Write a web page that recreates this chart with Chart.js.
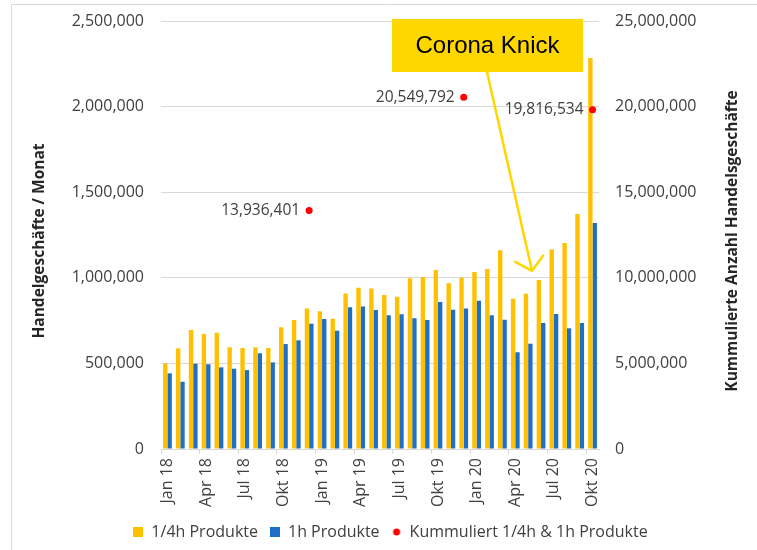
<!DOCTYPE html>
<html>
<head>
<meta charset="utf-8">
<script src="https://cdn.jsdelivr.net/npm/chart.js@4.4.1/dist/chart.umd.min.js"></script>
<style>
  html, body { margin: 0; padding: 0; background: #fff; }
  #wrap { width: 757px; height: 550px; }
</style>
</head>
<body>
<div id="wrap"><canvas id="tradeChart" width="757" height="550"></canvas></div>
<script>
// Data
const months = [
  "Jan 18", "Feb 18", "Mär 18", "Apr 18", "Mai 18", "Jun 18", "Jul 18", "Aug 18", "Sep 18", "Okt 18", "Nov 18", "Dez 18",
  "Jan 19", "Feb 19", "Mär 19", "Apr 19", "Mai 19", "Jun 19", "Jul 19", "Aug 19", "Sep 19", "Okt 19", "Nov 19", "Dez 19",
  "Jan 20", "Feb 20", "Mär 20", "Apr 20", "Mai 20", "Jun 20", "Jul 20", "Aug 20", "Sep 20", "Okt 20"
];
const quarterHourTrades = [
  500000, 588000, 695000, 672000, 679000, 594000, 590000, 594000, 590000, 711000, 753000, 820000,
  804000, 761000, 909000, 942000, 938000, 899000, 890000, 997000, 1005000, 1046000, 968000, 1001000,
  1034000, 1051000, 1161000, 878000, 907000, 987000, 1166000, 1203000, 1373000, 2284000
];
const hourTrades = [
  442000, 393000, 498000, 495000, 477000, 469000, 461000, 559000, 506000, 613000, 635000, 732000,
  759000, 691000, 828000, 833000, 812000, 781000, 787000, 763000, 753000, 859000, 814000, 820000,
  866000, 781000, 755000, 565000, 615000, 736000, 788000, 705000, 736000, 1320000
];
const cumMonths = ["Dez 18", "Dez 19", "Okt 20"];
const cumTrades = [13936401, 20549792, 19816534];

const seriesNames = ["1/4h Produkte", "1h Produkte", "Kummuliert 1/4h & 1h Produkte"];
const leftTitle = "Handelgeschäfte / Monat";
const rightTitle = "Kummulierte Anzahl Handelsgeschäfte";
const calloutText = "Corona Knick";

const GOLD = "#FFC000";
const BLUE = "#1F6FC6";
const RED = "#FF0000";
const CALLOUT = "#FFD700";
const GRID = "#D9D9D9";
const TEXT = "#404040";
const NONE = "rgba(0,0,0,0)";

Chart.defaults.font.family = '"Open Sans", "Noto Sans", sans-serif';
Chart.defaults.font.size = 16;
Chart.defaults.color = TEXT;

const fmt = v => Number(v).toLocaleString("en-US");

// small legend markers
function marker(color, round) {
  const c = document.createElement("canvas");
  c.width = 10; c.height = 10;
  const g = c.getContext("2d");
  g.fillStyle = color;
  if (round) { g.beginPath(); g.arc(5, 5, 3.5, 0, Math.PI * 2); g.fill(); }
  else g.fillRect(0, 0, 10, 10);
  return c;
}
const markers = [marker(GOLD), marker(BLUE), marker(RED, true)];

// callout placement in scale units (x: category index, y: left axis)
const callout = { x0: 17.43, x1: 32.26, yTop: 2512000, yBottom: 2202000 };
const arrow = { x0: 24.81, y0: 2202000, x1: 28.3, y1: 1040000 };

const extras = {
  id: "extras",
  beforeDraw(chart) {
    const c = chart.ctx;
    c.save();
    c.strokeStyle = GRID;
    c.lineWidth = 1;
    c.beginPath();
    c.moveTo(11.5, chart.height);
    c.lineTo(11.5, 4.5);
    c.lineTo(chart.width, 4.5);
    c.stroke();
    c.restore();
  },
  afterDraw(chart) {
    const c = chart.ctx, area = chart.chartArea;
    const xs = chart.scales.x, ys = chart.scales.y;
    const midY = (area.top + area.bottom) / 2 + 6;

    // axis titles
    [[leftTitle, 40], [rightTitle, 733]].forEach(([t, x]) => {
      c.save();
      c.fillStyle = "#262626";
      c.font = 'bold 15.5px "Open Sans"';
      c.textAlign = "center";
      c.textBaseline = "middle";
      c.translate(x, midY);
      c.rotate(-Math.PI / 2);
      c.fillText(t, 0, 0);
      c.restore();
    });

    // labels for cumulative points
    c.save();
    c.fillStyle = TEXT;
    c.font = '15.5px "Open Sans"';
    c.textAlign = "right";
    c.textBaseline = "middle";
    chart.getDatasetMeta(2).data.forEach((pt, i) => {
      c.fillText(fmt(cumTrades[i]), pt.x - 9, pt.y);
    });
    c.restore();

    // Corona Knick callout
    const bx0 = xs.getPixelForValue(callout.x0), bx1 = xs.getPixelForValue(callout.x1);
    const by0 = ys.getPixelForValue(callout.yTop), by1 = ys.getPixelForValue(callout.yBottom);
    const ax0 = xs.getPixelForValue(arrow.x0), ay0 = ys.getPixelForValue(arrow.y0);
    const ax1 = xs.getPixelForValue(arrow.x1), ay1 = ys.getPixelForValue(arrow.y1);
    c.save();
    c.strokeStyle = CALLOUT;
    c.lineWidth = 2.5;
    c.lineCap = "round";
    c.beginPath();
    c.moveTo(ax0, ay0);
    c.lineTo(ax1, ay1);
    const ang = Math.atan2(ay0 - ay1, ax0 - ax1);
    const wing = 19, spread = 0.85;
    c.moveTo(ax1 + wing * Math.cos(ang - spread), ay1 + wing * Math.sin(ang - spread));
    c.lineTo(ax1, ay1);
    c.lineTo(ax1 + wing * Math.cos(ang + spread), ay1 + wing * Math.sin(ang + spread));
    c.stroke();
    c.fillStyle = CALLOUT;
    c.fillRect(bx0, by0, bx1 - bx0, by1 - by0);
    c.fillStyle = "#000";
    c.font = '24px "Liberation Sans", Arial, sans-serif';
    c.textAlign = "center";
    c.textBaseline = "middle";
    c.fillText(calloutText, (bx0 + bx1) / 2, (by0 + by1) / 2 + 1);
    c.restore();
  }
};

const ctx = document.getElementById("tradeChart").getContext("2d");
const tradeChart = new Chart(ctx, {
  type: "bar",
  data: {
    labels: months,
    datasets: [
      { label: seriesNames[0], data: quarterHourTrades, backgroundColor: GOLD, yAxisID: "y", order: 1 },
      { label: seriesNames[1], data: hourTrades, backgroundColor: BLUE, yAxisID: "y", order: 2 },
      {
        type: "line",
        label: seriesNames[2],
        data: cumMonths.map((m, i) => ({ x: m, y: cumTrades[i] })),
        showLine: false,
        pointRadius: 3.5,
        pointBorderWidth: 0,
        pointBackgroundColor: RED,
        borderColor: RED,
        backgroundColor: RED,
        yAxisID: "y2",
        order: 0
      }
    ]
  },
  options: {
    responsive: false,
    animation: false,
    devicePixelRatio: 1,
    layout: { padding: { left: 24, right: 0, top: 21, bottom: 0 } },
    datasets: { bar: { categoryPercentage: 0.68, barPercentage: 1.0 } },
    plugins: {
      tooltip: { enabled: false },
      legend: {
        position: "bottom",
        labels: {
          usePointStyle: true,
          boxWidth: 10,
          boxHeight: 10,
          padding: 12,
          color: TEXT,
          font: { size: 16 },
          generateLabels: chart => Chart.defaults.plugins.legend.labels.generateLabels(chart)
            .map(item => ({ ...item, pointStyle: markers[item.datasetIndex] })),
          sort: (a, b) => a.datasetIndex - b.datasetIndex
        }
      }
    },
    scales: {
      x: {
        offset: true,
        grid: {
          offset: true,
          drawOnChartArea: false,
          drawTicks: true,
          tickLength: 5,
          color: c => (c.index % 3 === 0 ? GRID : NONE)
        },
        border: { color: GRID },
        ticks: {
          autoSkip: false,
          minRotation: 90,
          maxRotation: 90,
          padding: 4,
          callback: (v, i) => (i % 3 === 0 ? months[i] : "")
        },
        afterFit: s => { s.height = 63; }
      },
      y: {
        position: "left",
        min: 0,
        max: 2500000,
        grid: { color: GRID, drawTicks: true, tickLength: 15, tickColor: NONE },
        border: { display: false },
        ticks: { stepSize: 500000, padding: 2, callback: v => fmt(v) },
        afterFit: s => { s.width = 137; }
      },
      y2: {
        position: "right",
        min: 0,
        max: 25000000,
        grid: { drawOnChartArea: false, drawTicks: true, tickLength: 14, tickColor: NONE },
        border: { display: false },
        ticks: { stepSize: 5000000, padding: 2, callback: v => fmt(v) },
        afterFit: s => { s.width = 158; }
      }
    }
  },
  plugins: [extras]
});
</script>
</body>
</html>
